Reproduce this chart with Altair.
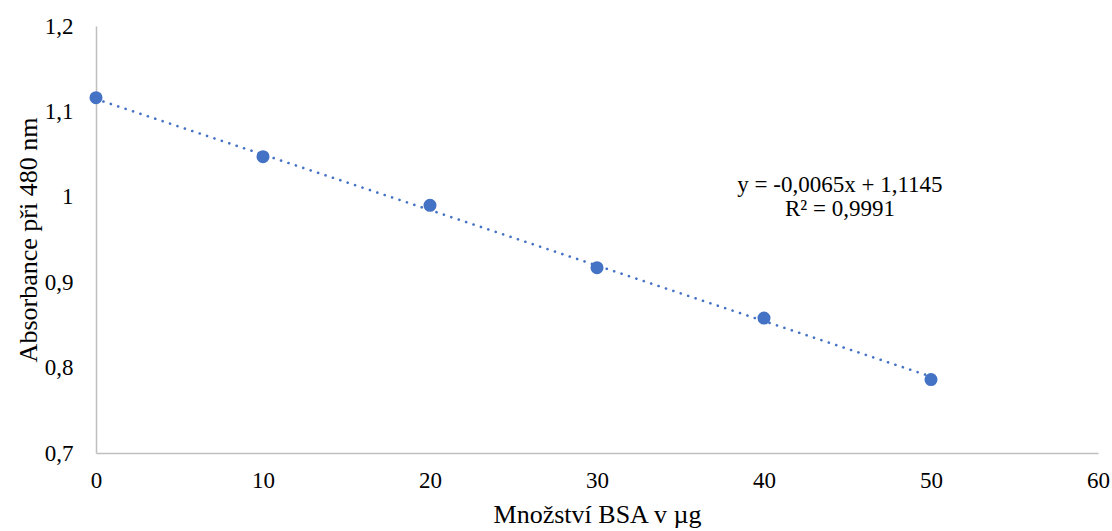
import altair as alt
import pandas as pd

# Calibration measurements: BSA amount (µg) vs absorbance at 480 nm
bsa_ug = [0, 10, 20, 30, 40, 50]
absorbance = [1.116, 1.047, 0.990, 0.917, 0.858, 0.786]

# Linear trend reported for the series
slope = -0.0065
intercept = 1.1145
trend_x = [0, 50]

equation_lines = ["y = -0,0065x + 1,1145", "R² = 0,9991"]

FONT = "Times New Roman, Liberation Serif, DejaVu Serif, serif"
BLUE = "#4472C4"

points = pd.DataFrame({"x": bsa_ug, "y": absorbance})
trend = pd.DataFrame({"x": trend_x, "y": [intercept + slope * v for v in trend_x]})

x_scale = alt.Scale(domain=[0, 60], nice=False, zero=False)
y_scale = alt.Scale(domain=[0.7, 1.2], nice=False, zero=False)

x_axis = alt.Axis(
    title="Množství BSA v µg",
    values=[0, 10, 20, 30, 40, 50, 60],
    ticks=False,
    grid=False,
    labelFlush=False,
    domainColor="#BFBFBF",
    domainWidth=1.5,
    labelFont=FONT,
    labelFontSize=23,
    labelColor="#000000",
    labelPadding=16,
    titleFont=FONT,
    titleFontSize=26,
    titleFontWeight="normal",
    titleColor="#000000",
    titlePadding=9,
)
y_axis = alt.Axis(
    title="Absorbance při 480 nm",
    values=[0.7, 0.8, 0.9, 1.0, 1.1, 1.2],
    labelExpr="replace(toString(round(datum.value * 10) / 10), '.', ',')",
    ticks=False,
    grid=False,
    labelFlush=False,
    domainColor="#BFBFBF",
    domainWidth=1.5,
    labelFont=FONT,
    labelFontSize=23,
    labelColor="#000000",
    labelPadding=23,
    titleFont=FONT,
    titleFontSize=26,
    titleFontWeight="normal",
    titleColor="#000000",
    titlePadding=3,
)

trend_line = alt.Chart(trend).mark_line(
    color=BLUE, strokeWidth=2.6, strokeDash=[0.1, 7.7], strokeCap="round"
).encode(
    x=alt.X("x:Q", scale=x_scale, axis=x_axis),
    y=alt.Y("y:Q", scale=y_scale, axis=y_axis),
)

dots = alt.Chart(points).mark_point(
    filled=True, color=BLUE, opacity=1, size=170, shape="circle"
).encode(
    x=alt.X("x:Q", scale=x_scale),
    y=alt.Y("y:Q", scale=y_scale),
)

eq_text = alt.Chart(pd.DataFrame({"t": [equation_lines]})).mark_text(
    font=FONT, fontSize=23, color="#000000", align="center", baseline="alphabetic",
    lineHeight=24,
).encode(
    x=alt.datum(44.55),
    y=alt.datum(1.0056),
    text="t",
)

chart = alt.layer(trend_line, dots, eq_text).properties(
    width=1002,
    height=427,
    padding={"left": 96, "top": 26, "right": 14, "bottom": 78},
    autosize=alt.AutoSizeParams(type="none"),
    background="#FFFFFF",
).configure_view(stroke=None)

chart.save("out.html", embed_options={"renderer": "svg", "actions": False})
